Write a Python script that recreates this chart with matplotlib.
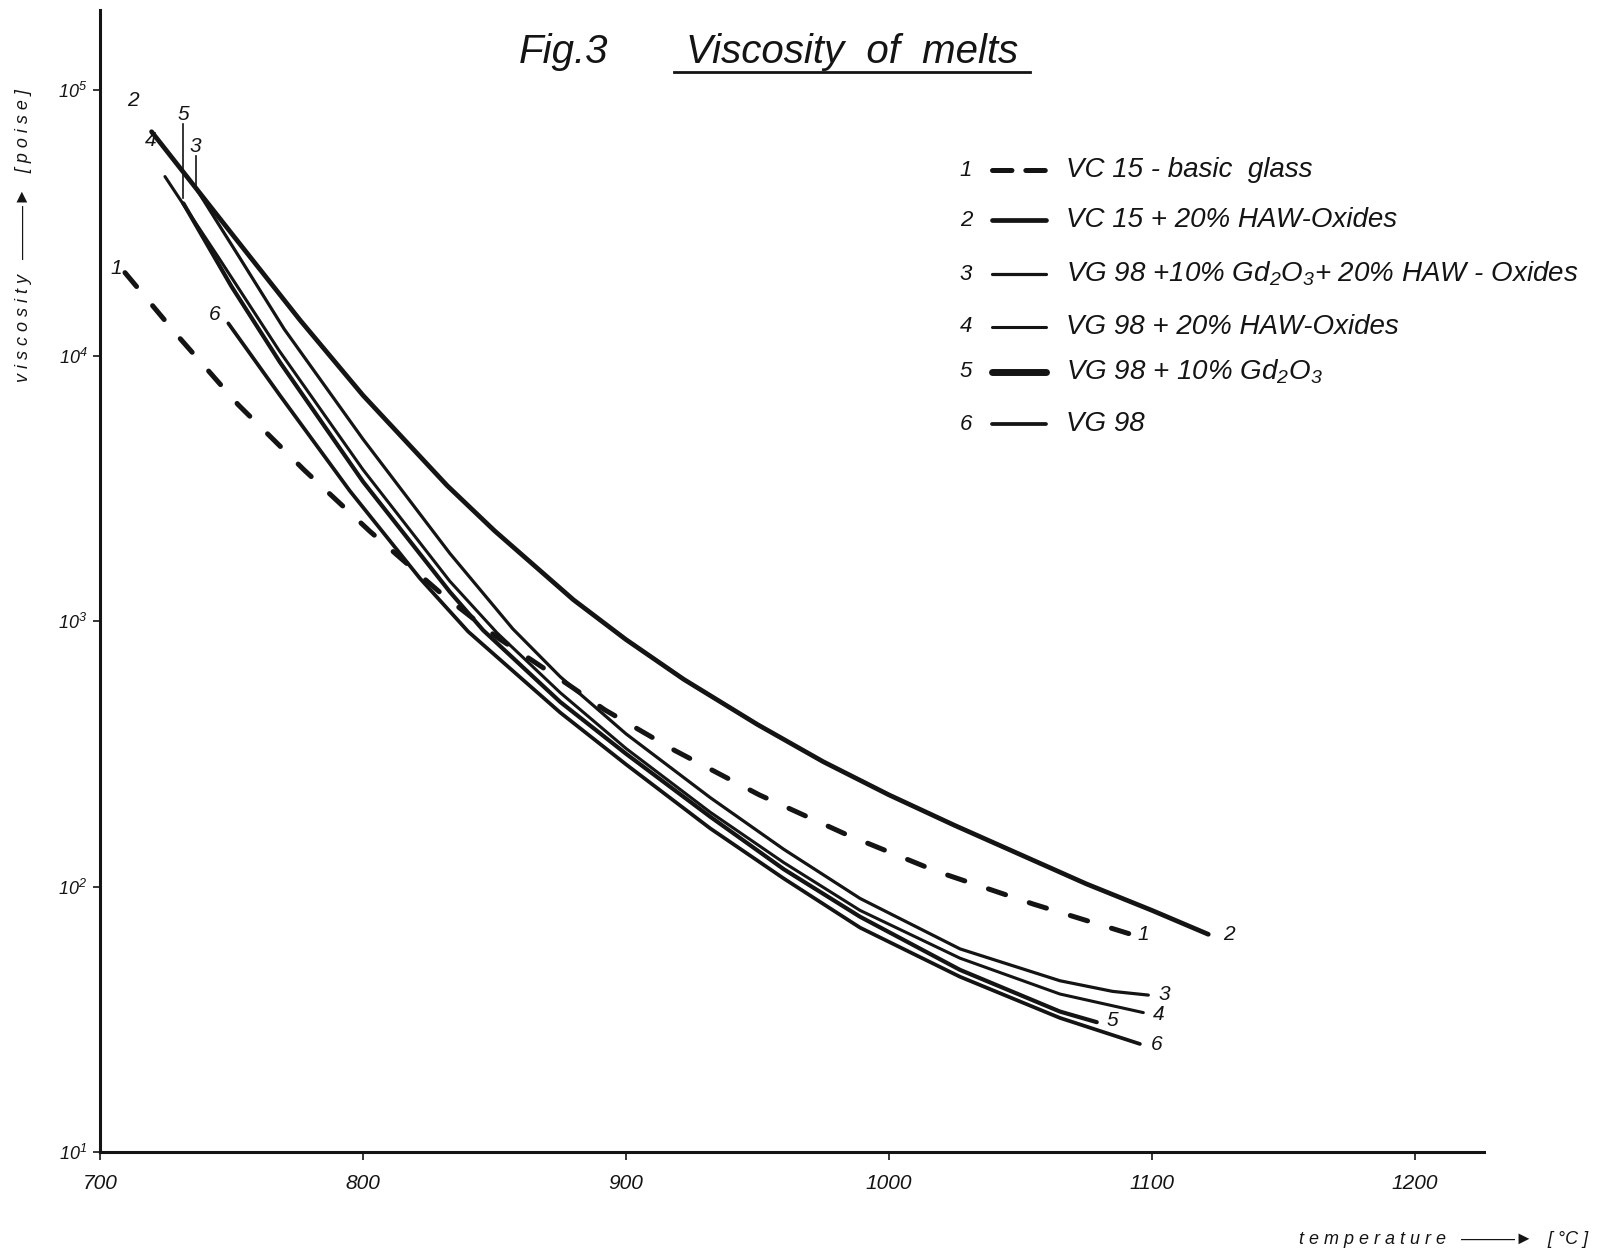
import numpy as np
import matplotlib
matplotlib.use("Agg")
import matplotlib.pyplot as plt
from matplotlib.lines import Line2D

plt.rcParams['font.family'] = ['Liberation Sans', 'DejaVu Sans']
plt.rcParams['font.style'] = 'italic'
plt.rcParams['mathtext.fontset'] = 'custom'
plt.rcParams['mathtext.rm'] = 'Liberation Sans:italic'
plt.rcParams['mathtext.it'] = 'Liberation Sans:italic'
plt.rcParams['lines.scale_dashes'] = False

# ---------------- data (temperature [°C], log10 viscosity [poise]) ----------------
t1 = [709.5, 730, 752.6, 777.6, 802.7, 830.4, 851.5, 864.1, 879.3, 892, 918.6, 950.7, 984.2, 1018.4, 1054.8, 1093]
v1 = [4.312, 4.069, 3.814, 3.569, 3.337, 3.098, 2.935, 2.853, 2.752, 2.665, 2.512, 2.345, 2.194, 2.056, 1.934, 1.817]

t2 = [719.6, 750, 776, 800, 832, 850, 880, 900, 922, 950, 975, 1000, 1025, 1050, 1075, 1100, 1121.4]
v2 = [4.843, 4.46, 4.134, 3.85, 3.51, 3.34, 3.08, 2.93, 2.78, 2.61, 2.47, 2.345, 2.23, 2.12, 2.01, 1.91, 1.82]

t3 = [736.1, 753, 770, 800, 833, 857, 875, 900, 932, 960, 989, 1027, 1065, 1085, 1098.6]
v3 = [4.636, 4.37, 4.10, 3.685, 3.255, 2.97, 2.79, 2.575, 2.335, 2.14, 1.955, 1.765, 1.645, 1.605, 1.591]

t4 = [724.7, 745, 768, 800, 833, 851, 875, 900, 932, 960, 989, 1027, 1065, 1096.7]
v4 = [4.674, 4.37, 4.02, 3.57, 3.15, 2.955, 2.73, 2.52, 2.28, 2.09, 1.91, 1.73, 1.595, 1.525]

t5 = [731.7, 750, 768.4, 800, 833, 845.7, 875, 900, 932, 960, 989, 1027, 1065, 1079]
v5 = [4.573, 4.26, 3.975, 3.525, 3.11, 2.965, 2.695, 2.50, 2.263, 2.065, 1.886, 1.686, 1.529, 1.489]

t6 = [748.8, 768.4, 795, 821.7, 840, 875, 900, 932, 960, 989, 1027, 1065, 1095.4]
v6 = [4.121, 3.85, 3.49, 3.16, 2.96, 2.655, 2.46, 2.219, 2.03, 1.845, 1.66, 1.505, 1.407]

series_T = [t1, t2, t3, t4, t5, t6]
series_logv = [v1, v2, v3, v4, v5, v6]
series_ids = ['1', '2', '3', '4', '5', '6']
legend_labels = [
    'VC 15 - basic  glass',
    'VC 15 + 20% HAW-Oxides',
    'VG 98 +10% Gd$_2$O$_3$+ 20% HAW - Oxides',
    'VG 98 + 20% HAW-Oxides',
    'VG 98 + 10% Gd$_2$O$_3$',
    'VG 98',
]
x_ticks = [700, 800, 900, 1000, 1100, 1200]
y_exponents = [1, 2, 3, 4, 5]

# ---------------- styles ----------------
INK = '#141414'
styles = [
    dict(lw=3.6, dashes=(13, 18), dash_capstyle='round'),
    dict(lw=3.4),
    dict(lw=2.3),
    dict(lw=2.2),
    dict(lw=3.0),
    dict(lw=2.7),
]

W, H = 1611, 1257
fig = plt.figure(figsize=(W / 100, H / 100), dpi=100)
fig.patch.set_facecolor('white')


def fx(px):
    return px / W


def fy(py):
    return 1 - py / H


ax_left, ax_right, ax_top, ax_bot = 100, 1484, 10, 1152
ax = fig.add_axes([fx(ax_left), fy(ax_bot), fx(ax_right - ax_left), (ax_bot - ax_top) / H])
ax.set_yscale('log')
ax.set_xlim(700, 700 + (ax_right - ax_left) / 2.63)
ax.set_ylim(10 ** 1, 10 ** (5 + 80 / 265.5))

for T, lv, st in zip(series_T, series_logv, styles):
    ax.plot(T, 10 ** np.array(lv), color=INK, solid_capstyle='round',
            solid_joinstyle='round', **st)

for side in ['top', 'right']:
    ax.spines[side].set_visible(False)
for side in ['left', 'bottom']:
    ax.spines[side].set_linewidth(2.2)
    ax.spines[side].set_color(INK)

ax.set_xticks(x_ticks)
ax.set_xticklabels([str(t) for t in x_ticks], fontsize=15, style='italic')
ax.set_yticks([10 ** e for e in y_exponents])
ax.set_yticklabels([f'$10^{{{e}}}$' for e in y_exponents], fontsize=13)
ax.minorticks_off()
ax.tick_params(axis='x', direction='out', length=6, width=1.2, pad=10, colors=INK)
ax.tick_params(axis='y', direction='out', length=5, width=1.2, pad=4, colors=INK)
ax.set_facecolor('none')

# ---------------- title ----------------
fig.text(fx(564), fy(52), 'Fig.3', fontsize=29, ha='center', va='center', color=INK)
fig.text(fx(852), fy(52), 'Viscosity  of  melts', fontsize=29, ha='center', va='center', color=INK)
fig.add_artist(Line2D([fx(674), fx(1030)], [fy(72), fy(72)], color=INK, lw=2.0))

# ---------------- axis labels ----------------
fig.text(fx(24), fy(236), 'v i s c o s i t y   ———►   [ p o i s e ]', fontsize=13,
         rotation=90, ha='center', va='center', color=INK)
fig.text(fx(1588), fy(1240), 't e m p e r a t u r e   ———►   [ °C ]', fontsize=13,
         ha='right', va='center', color=INK)

# ---------------- legend (drawn by hand) ----------------
leg_y = [170, 220, 274, 327, 372, 424]
for i, (sid, lab, st) in enumerate(zip(series_ids, legend_labels, styles)):
    y = leg_y[i]
    fig.text(fx(966), fy(y), sid, fontsize=16, ha='center', va='center', color=INK)
    kw = dict(st)
    if i == 0:
        kw['dashes'] = (14, 10)
    if i == 4:
        kw['lw'] = 5.0
    fig.add_artist(Line2D([fx(992), fx(1046)], [fy(y), fy(y)], color=INK,
                          solid_capstyle='round', **kw))
    fig.text(fx(1066), fy(y), lab, fontsize=20, ha='left', va='center', color=INK)

# ---------------- curve numbers ----------------
num_pos = [
    ('2', 133, 100), ('5', 183, 114), ('3', 195, 146), ('4', 151, 141),
    ('1', 116, 268), ('6', 215, 315),
    ('1', 1143, 935), ('2', 1229, 935), ('3', 1164, 994), ('4', 1159, 1015),
    ('5', 1112, 1021), ('6', 1157, 1045),
]
for s, x, y in num_pos:
    fig.text(fx(x), fy(y), s, fontsize=15, ha='center', va='center', color=INK)

# leader ticks for labels 5 and 3
fig.add_artist(Line2D([fx(183), fx(183)], [fy(124), fy(198)], color=INK, lw=1.2))
fig.add_artist(Line2D([fx(196), fx(196)], [fy(156), fy(190)], color=INK, lw=1.2))

fig.savefig('out.png', dpi=100, facecolor='white')
